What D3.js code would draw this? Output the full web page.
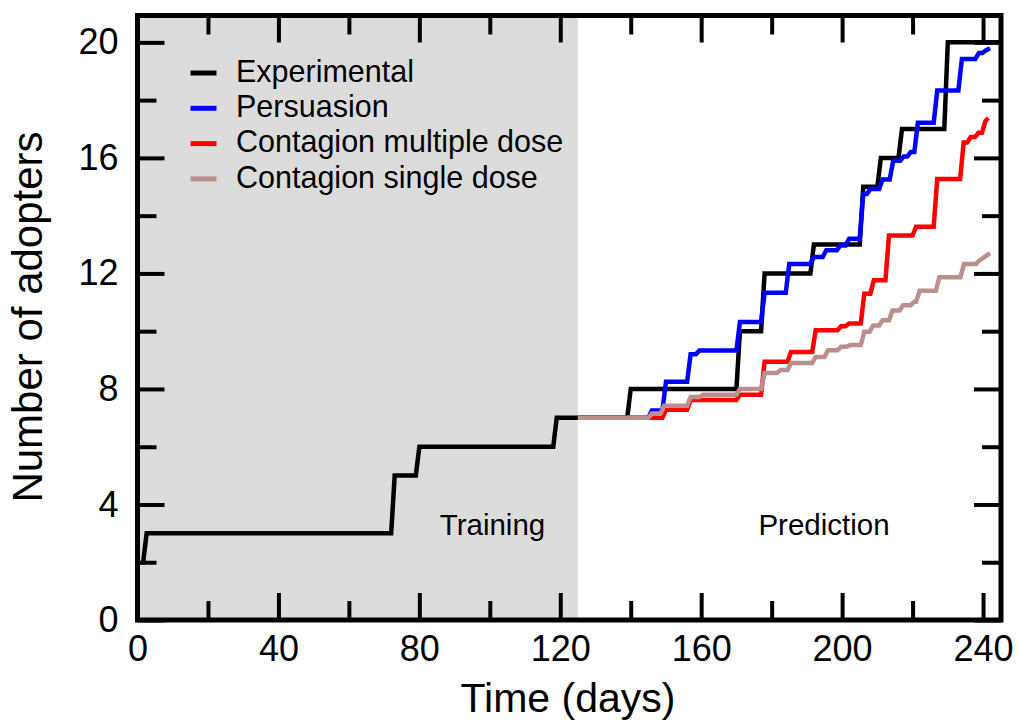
<!DOCTYPE html>
<html>
<head>
<meta charset="utf-8">
<script src="https://cdn.jsdelivr.net/npm/d3@7"></script>
<style>
  html, body { margin: 0; padding: 0; background: #ffffff; }
  svg { display: block; font-family: "Liberation Sans", Arial, Helvetica, sans-serif; }
</style>
</head>
<body>
<svg id="chart" width="1019" height="723"></svg>
<script>
// Cumulative adopters over time: observed counts and three model predictions.
// Each series: day at which a level starts, and that level; the last entry is the end point.
const experimentalDays   = [1, 1.6, 72, 79, 118, 139, 170, 177, 191, 205, 210, 216, 229, 245];
const experimentalValues = [2, 3, 5, 6, 7, 8, 10, 12, 13, 15, 16, 17, 20, 20];

const persuasionDays   = [125, 145, 149, 156, 158.5, 170, 177, 184, 191, 194.5, 198.5, 201, 205, 207, 210.5, 213.5, 216.5, 218.5, 220.5, 226, 233, 237.8, 239.8, 242];
const persuasionValues = [7, 7.25, 8.25, 9.2, 9.33, 10.32, 11.33, 12.33, 12.57, 12.8, 12.97, 13.2, 14.75, 14.92, 15.25, 15.9, 16.05, 16.2, 17.22, 18.33, 19.42, 19.63, 19.72, 19.8];

const multipleDoseDays   = [125, 149, 156, 170, 177, 184.5, 191.5, 198.7, 201, 205.3, 208, 212.3, 220, 226, 233.5, 235.5, 237.7, 239.7, 241.5];
const multipleDoseValues = [7, 7.28, 7.62, 7.8, 8.94, 9.28, 10.03, 10.17, 10.27, 11.3, 11.76, 13.31, 13.62, 15.27, 16.53, 16.72, 16.87, 17.28, 17.38];

const singleDoseDays   = [125, 145, 148.5, 156, 159.5, 170, 177, 181.5, 184.5, 191.5, 195, 198.7, 201.3, 205.3, 207.8, 210.5, 213.3, 216.3, 219.5, 221, 226.6, 233.6, 238, 242];
const singleDoseValues = [7, 7.15, 7.42, 7.72, 7.8, 8.0, 8.55, 8.66, 8.9, 9.11, 9.34, 9.46, 9.52, 9.98, 10.2, 10.38, 10.72, 10.9, 11.02, 11.4, 11.87, 12.33, 12.45, 12.7];

const seriesNames  = ["Experimental", "Persuasion", "Contagion multiple dose", "Contagion single dose"];
const seriesColors = ["#000000", "#0000ff", "#ff0000", "#bc8f8f"];

const trainingEnd = 125;
const xMajorTicks = [0, 40, 80, 120, 160, 200, 240];
const xMinorTicks = [20, 60, 100, 140, 180, 220];
const yMajorTicks = [0, 4, 8, 12, 16, 20];
const yMinorTicks = [2, 6, 10, 14, 18];

const svg = d3.select("#chart");
const plotLeft = 137.5, plotRight = 1001, plotTop = 15.5, plotBottom = 620;

const x = d3.scaleLinear().domain([0, 245.1]).range([plotLeft, plotRight]);
const y = d3.scaleLinear().domain([0, 20.93]).range([plotBottom, plotTop]);

// Training-period shading
svg.append("rect")
  .attr("x", x(0)).attr("y", plotTop)
  .attr("width", x(trainingEnd) - x(0)).attr("height", plotBottom - plotTop)
  .attr("fill", "#dcdcdc");

// Axes: inward ticks on all four sides
function styleAxis(g) {
  g.select(".domain").remove();
  g.selectAll(".tick line").attr("stroke", "#000").attr("stroke-width", 4);
  g.selectAll(".tick text").attr("fill", "#000").attr("font-size", 36);
}
const majorLen = 27, minorLen = 19;

svg.append("g").attr("transform", `translate(0,${plotBottom})`)
  .call(d3.axisBottom(x).tickValues(xMajorTicks).tickSize(-majorLen).tickPadding(15).tickFormat(d3.format("d")))
  .call(styleAxis);
svg.append("g").attr("transform", `translate(0,${plotBottom})`)
  .call(d3.axisBottom(x).tickValues(xMinorTicks).tickSize(-minorLen).tickFormat(""))
  .call(styleAxis);
svg.append("g").attr("transform", `translate(0,${plotTop})`)
  .call(d3.axisTop(x).tickValues(xMajorTicks).tickSize(-majorLen).tickFormat(""))
  .call(styleAxis);
svg.append("g").attr("transform", `translate(0,${plotTop})`)
  .call(d3.axisTop(x).tickValues(xMinorTicks).tickSize(-minorLen).tickFormat(""))
  .call(styleAxis);

svg.append("g").attr("transform", `translate(${plotLeft},0)`)
  .call(d3.axisLeft(y).tickValues(yMajorTicks).tickSize(-majorLen).tickPadding(19).tickFormat(d3.format("d")))
  .call(styleAxis);
svg.append("g").attr("transform", `translate(${plotLeft},0)`)
  .call(d3.axisLeft(y).tickValues(yMinorTicks).tickSize(-minorLen).tickFormat(""))
  .call(styleAxis);
svg.append("g").attr("transform", `translate(${plotRight},0)`)
  .call(d3.axisRight(y).tickValues(yMajorTicks).tickSize(-majorLen).tickFormat(""))
  .call(styleAxis);
svg.append("g").attr("transform", `translate(${plotRight},0)`)
  .call(d3.axisRight(y).tickValues(yMinorTicks).tickSize(-minorLen).tickFormat(""))
  .call(styleAxis);

// Step curves with short slanted risers
const ramp = 1;
function stepPoints(days, values) {
  const pts = [[days[0], values[0]]];
  const n = days.length;
  for (let i = 1; i < n - 1; i++) {
    pts.push([days[i], values[i - 1]]);
    pts.push([days[i] + ramp, values[i]]);
  }
  pts.push([days[n - 1], values[n - 1]]);
  return pts;
}
const line = d3.line().x(d => x(d[0])).y(d => y(d[1]));

const seriesData = [
  [experimentalDays, experimentalValues],
  [persuasionDays, persuasionValues],
  [multipleDoseDays, multipleDoseValues],
  [singleDoseDays, singleDoseValues]
];
seriesData.forEach(([days, values], i) => {
  svg.append("path")
    .attr("d", line(stepPoints(days, values)))
    .attr("fill", "none")
    .attr("stroke", seriesColors[i])
    .attr("stroke-width", 4.5)
    .attr("stroke-linejoin", "miter")
    .attr("stroke-linecap", "butt");
});

// Frame
svg.append("rect")
  .attr("x", plotLeft).attr("y", plotTop)
  .attr("width", plotRight - plotLeft).attr("height", plotBottom - plotTop)
  .attr("fill", "none").attr("stroke", "#000").attr("stroke-width", 5);

// Legend
const legend = svg.append("g");
seriesNames.forEach((name, i) => {
  const cy = 73 + i * 35.3;
  legend.append("line")
    .attr("x1", 190.5).attr("x2", 216.5).attr("y1", cy).attr("y2", cy)
    .attr("stroke", seriesColors[i]).attr("stroke-width", 5);
  legend.append("text")
    .attr("x", 236).attr("y", cy + 8.7)
    .attr("font-size", 30.5).attr("fill", "#000")
    .text(name);
});

// Period labels
svg.append("text").attr("x", 492.5).attr("y", 535).attr("text-anchor", "middle")
  .attr("font-size", 29.5).attr("fill", "#000").text("Training");
svg.append("text").attr("x", 824).attr("y", 535).attr("text-anchor", "middle")
  .attr("font-size", 29.5).attr("fill", "#000").text("Prediction");

// Axis titles
svg.append("text").attr("x", 568).attr("y", 712).attr("text-anchor", "middle")
  .attr("font-size", 41).attr("fill", "#000").text("Time (days)");
svg.append("text")
  .attr("transform", "translate(42,317) rotate(-90)")
  .attr("text-anchor", "middle")
  .attr("font-size", 42).attr("fill", "#000").text("Number of adopters");
</script>
</body>
</html>
